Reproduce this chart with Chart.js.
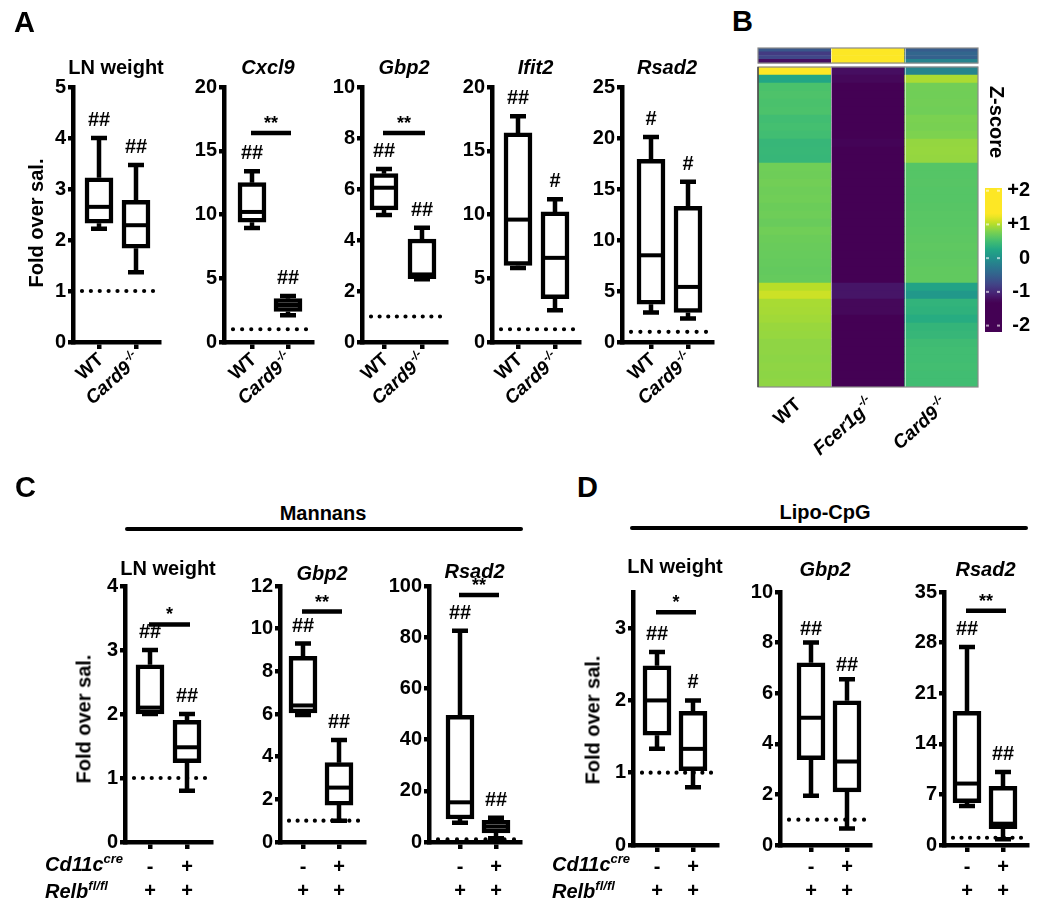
<!DOCTYPE html>
<html><head><meta charset="utf-8">
<script src="https://cdn.jsdelivr.net/npm/chart.js@4.4.1/dist/chart.umd.min.js"></script>
<style>
html,body{margin:0;padding:0;background:#fff;}
#root{position:relative;width:1050px;height:922px;overflow:hidden;background:#fff;font-family:"Liberation Sans",Arial,Helvetica,sans-serif;color:#000;}
canvas{position:absolute;}
.t{position:absolute;white-space:nowrap;line-height:0;}
.v{position:absolute;white-space:nowrap;font-weight:bold;}
.hl{position:absolute;background:#000;height:4px;border-radius:2px;}
.sp{position:relative;top:-0.65em;font-size:0.65em;}
</style></head><body><div id="root"></div>
<script>
const FONT = '"Liberation Sans", Arial, Helvetica, sans-serif';
Chart.defaults.font.family = FONT;
Chart.defaults.color = '#000';

// ================= DATA =================
// group labels
const groupsA = ['WT', 'Card9'];
const groupsASup = ['', '-/-'];
const groupsAItalic = [false, true];
const creRow = ['-', '+'];
const relbRow = ['+', '+'];

// box statistics: [min, Q1, median, Q3, max]
const A_LN_WT = [2.22, 2.33, 2.65, 3.22, 4.0];
const A_LN_KO = [1.37, 1.84, 2.29, 2.78, 3.47];
const A_CXCL9_WT = [8.95, 9.4, 10.2, 12.5, 13.4];
const A_CXCL9_KO = [2.1, 2.4, 2.9, 3.4, 3.6];
const A_GBP2_WT = [4.98, 5.18, 6.05, 6.6, 6.78];
const A_GBP2_KO = [2.46, 2.48, 2.65, 4.04, 4.48];
const A_IFIT2_WT = [5.8, 6.0, 9.6, 16.4, 17.7];
const A_IFIT2_KO = [2.5, 3.4, 6.6, 10.2, 11.2];
const A_RSAD2_WT = [2.9, 3.7, 8.5, 17.9, 20.1];
const A_RSAD2_KO = [2.3, 2.9, 5.4, 13.3, 15.7];

const C_LN_CTRL = [2.0, 2.0, 2.1, 2.77, 3.0];
const C_LN_CRE = [0.8, 1.24, 1.48, 1.9, 2.0];
const C_GBP2_CTRL = [5.95, 6.05, 6.4, 8.7, 9.3];
const C_GBP2_CRE = [1.0, 1.73, 2.55, 3.72, 4.78];
const C_RSAD2_CTRL = [7.5, 9.0, 15.5, 49.5, 82.5];
const C_RSAD2_CRE = [1.5, 3.5, 6.0, 8.5, 9.5];

const D_LN_CTRL = [1.33, 1.52, 2.0, 2.48, 2.67];
const D_LN_CRE = [0.8, 1.03, 1.33, 1.85, 2.0];
const D_GBP2_CTRL = [1.95, 3.37, 5.03, 7.2, 8.0];
const D_GBP2_CRE = [0.65, 2.1, 3.3, 5.7, 6.55];
const D_RSAD2_CTRL = [5.4, 5.85, 8.5, 18.5, 27.4];
const D_RSAD2_CRE = [0.8, 2.25, 2.95, 8.1, 10.1];

// significance marks above each box
const marksA_LN = ['##', '##'];
const marksA_CXCL9 = ['##', '##'];
const marksA_GBP2 = ['##', '##'];
const marksA_IFIT2 = ['##', '#'];
const marksA_RSAD2 = ['#', '#'];
const marksC_LN = ['##', '##'];
const marksC_GBP2 = ['##', '##'];
const marksC_RSAD2 = ['##', '##'];
const marksD_LN = ['##', '#'];
const marksD_GBP2 = ['##', '##'];
const marksD_RSAD2 = ['##', '##'];

// comparison bars: [level, label]
const sigA_CXCL9 = [16.4, '**'];
const sigA_GBP2 = [8.2, '**'];
const sigC_LN = [3.4, '*'];
const sigC_GBP2 = [10.8, '**'];
const sigC_RSAD2 = [96.5, '**'];
const sigD_LN = [3.22, '*'];
const sigD_RSAD2 = [32.4, '**'];

const refLevel = 1; // dotted saline line

// heatmap (z-scores), rows top to bottom
const heatGroups = ['WT', 'Fcer1g', 'Card9'];
const heatSup = ['', '-/-', '-/-'];
const heatItalic = [false, true, true];
const heatWT = [1.5, 0.24, 0.55, 0.57, 0.55, 0.56, 0.5, 0.52, 0.5, 0.42, 0.43, 0.42,
  0.73, 0.72, 0.74, 0.72, 0.73, 0.71, 0.72, 0.7, 0.73, 0.71, 0.7, 0.69, 0.68, 0.67, 0.68,
  1.02, 1.1, 0.96, 0.95, 0.93, 0.9, 0.89, 0.86, 0.86, 0.85, 0.86, 0.85, 0.86];
const heatFcer = [-1.2, -1.25, -1.6, -1.7, -1.7, -1.7, -1.6, -1.6, -1.6, -1.28, -1.3, -1.32,
  -1.8, -1.8, -1.8, -1.8, -1.8, -1.8, -1.8, -1.8, -1.8, -1.8, -1.8, -1.8, -1.8, -1.8, -1.8,
  -1.15, -1.15, -1.25, -1.25, -1.3, -1.3, -1.35, -1.5, -1.6, -1.6, -1.7, -1.7, -1.7];
const heatCard9 = [-0.13, 0.97, 0.74, 0.73, 0.74, 0.73, 0.78, 0.77, 0.79, 0.88, 0.89, 0.88,
  0.6, 0.6, 0.61, 0.6, 0.6, 0.61, 0.62, 0.62, 0.63, 0.64, 0.65, 0.64, 0.65, 0.66, 0.66,
  0.2, 0.08, 0.38, 0.36, 0.3, 0.4, 0.42, 0.48, 0.5, 0.5, 0.51, 0.5, 0.5];
const topWT = [-0.6, -0.85, -0.75, -1.2];
const topFcer = [1.6, 1.6, 1.6, 1.6];
const topCard9 = [-0.55, -0.45, -0.5, -0.15];
const zTicks = [-2, -1, 0, 1, 2];
const zRange = [-2.19, 2.08];

// ================= COLOR MAP =================
const VIR = ['#440154','#482475','#414487','#355f8d','#2a788e','#21918c','#22a884','#44bf70','#7ad151','#bddf26','#fde725'];
function hex2rgb(h){return [parseInt(h.slice(1,3),16),parseInt(h.slice(3,5),16),parseInt(h.slice(5,7),16)];}
function viridis(t){
  t = Math.max(0, Math.min(1, t));
  const p = t*10, i = Math.min(9, Math.floor(p)), f = p - i;
  const a = hex2rgb(VIR[i]), b = hex2rgb(VIR[i+1]);
  return 'rgb(' + a.map((v,k)=>Math.round(v + (b[k]-v)*f)).join(',') + ')';
}
const Z_SAT = 1.3;
const zc = z => viridis((z + Z_SAT) / (2*Z_SAT));

// ================= HELPERS =================
const root = document.getElementById('root');
function makeCanvas(left, top, w, h){
  const c = document.createElement('canvas');
  c.width = w; c.height = h;
  c.style.left = left+'px'; c.style.top = top+'px';
  c.style.width = w+'px'; c.style.height = h+'px';
  root.appendChild(c); return c;
}
function addText(html, x, base, size, opts){
  opts = opts || {};
  const d = document.createElement('div');
  d.className = 't'; d.innerHTML = html;
  d.style.fontSize = size+'px';
  d.style.fontWeight = opts.weight || 'bold';
  if (opts.italic) d.style.fontStyle = 'italic';
  d.style.top = (base - 0.3465*size) + 'px';
  d.style.left = x + 'px';
  if (opts.align === 'center') d.style.transform = 'translateX(-50%)';
  root.appendChild(d);
}
function addVText(text, cx, cy, size, deg){
  const d = document.createElement('div');
  d.className = 'v'; d.textContent = text; d.style.fontSize = size+'px';
  d.style.left = cx+'px'; d.style.top = cy+'px';
  d.style.transform = 'translate(-50%,-50%) rotate(' + deg + 'deg)';
  root.appendChild(d);
}
function addLine(x, y, w){
  const d = document.createElement('div');
  d.className = 'hl'; d.style.left = x+'px'; d.style.top = y+'px'; d.style.width = w+'px';
  root.appendChild(d);
}
function drawRotLabel(ctx, x, y, main, sup, italic, fs, angle){
  ctx.save();
  ctx.translate(x, y);
  ctx.rotate(-angle*Math.PI/180);
  const f1 = (italic ? 'italic ' : '') + 'bold ' + fs + 'px ' + FONT;
  const f2 = (italic ? 'italic ' : '') + 'bold ' + Math.round(fs*0.62) + 'px ' + FONT;
  ctx.font = f1; const w1 = ctx.measureText(main).width;
  ctx.font = f2; const w2 = sup ? ctx.measureText(sup).width + 1 : 0;
  ctx.textBaseline = 'alphabetic'; ctx.textAlign = 'left'; ctx.fillStyle = '#000';
  const yb = 0.36*fs;
  ctx.font = f1; ctx.fillText(main, -(w1+w2), yb);
  if (sup){ ctx.font = f2; ctx.fillText(sup, -w2 + 1, yb - 0.45*fs); }
  ctx.restore();
}

// ================= BOX CHARTS =================
const PL = 55, PR = 8, PT = 50, PB = 65;
const LW = 4.5;
const rowBase = [873, 897];

function boxDeco(d){
  return {
    id: 'deco',
    beforeDatasetsDraw(chart){
      const {ctx, chartArea: ca, scales: {y}} = chart;
      const yy = y.getPixelForValue(refLevel);
      const x0 = ca.left + 9, x1 = ca.right - 6, gap = (x1 - x0)/8;
      ctx.save();
      ctx.strokeStyle = '#000'; ctx.lineWidth = 4.2; ctx.lineCap = 'round';
      ctx.setLineDash([0, gap]);
      ctx.beginPath(); ctx.moveTo(x0, yy); ctx.lineTo(x1 + 0.5, yy); ctx.stroke();
      ctx.restore();
    },
    afterDatasetsDraw(chart){
      const {ctx, chartArea: ca, scales: {x, y}} = chart;
      const cTop = d.yTop - PT;
      ctx.save();
      ctx.strokeStyle = '#000'; ctx.fillStyle = '#000'; ctx.lineCap = 'butt';
      d.stats.forEach((s, i) => {
        const px = x.getPixelForValue(i);
        const [mn, q1, md, q3, mx] = s.map(v => y.getPixelForValue(v));
        ctx.lineWidth = LW;
        ctx.beginPath();
        ctx.moveTo(px, q3); ctx.lineTo(px, mx);
        ctx.moveTo(px, q1); ctx.lineTo(px, mn);
        ctx.moveTo(px - 8, mx); ctx.lineTo(px + 8, mx);
        ctx.moveTo(px - 8, mn); ctx.lineTo(px + 8, mn);
        ctx.stroke();
        ctx.lineWidth = 4;
        ctx.beginPath(); ctx.moveTo(px - 11, md); ctx.lineTo(px + 11, md); ctx.stroke();
        // marks
        ctx.font = 'bold 20px ' + FONT; ctx.textAlign = 'center'; ctx.textBaseline = 'alphabetic';
        ctx.fillText(d.marks[i], px, mx - (d.markDy || 12));
      });
      if (d.sig){
        const sy = y.getPixelForValue(d.sig[0]);
        const xa = x.getPixelForValue(0) - 1, xb = x.getPixelForValue(1) + 3;
        ctx.lineWidth = LW;
        ctx.beginPath(); ctx.moveTo(xa, sy); ctx.lineTo(xb, sy); ctx.stroke();
        ctx.font = 'bold 18px ' + FONT; ctx.textAlign = 'center';
        ctx.fillText(d.sig[1], (xa + xb)/2, sy - 4);
      }
      // title
      ctx.font = (d.italic ? 'italic ' : '') + 'bold 20px ' + FONT;
      ctx.textAlign = 'center'; ctx.textBaseline = 'alphabetic';
      ctx.fillText(d.title, (ca.left + ca.right)/2, ca.top + d.titleDy);
      // x labels
      for (let i = 0; i < 2; i++){
        const px = x.getPixelForValue(i);
        if (d.xl === 'geno'){
          drawRotLabel(ctx, px + 1, ca.bottom + 14, groupsA[i], groupsASup[i], groupsAItalic[i], 19, 42);
        } else {
          ctx.font = 'bold 20px ' + FONT; ctx.textAlign = 'center'; ctx.textBaseline = 'alphabetic';
          ctx.fillText(creRow[i], px, rowBase[0] - cTop);
          ctx.fillText(relbRow[i], px, rowBase[1] - cTop);
        }
      }
      ctx.restore();
    }
  };
}

function boxChart(d){
  const w = PL + (d.xEnd - d.axisX) + PR, h = PT + (d.yZero - d.yTop) + PB;
  const cv = makeCanvas(d.axisX - PL, d.yTop - PT, w, h);
  const sp = d.t1 - d.t0;
  const xmin = -(d.t0 - d.axisX)/sp, xmax = 1 + (d.xEnd - d.t1)/sp;
  new Chart(cv, {
    type: 'bar',
    data: { datasets: [{
      data: d.stats.map((s, i) => ({x: i, y: [s[1], s[3]]})),
      backgroundColor: '#fff', borderColor: '#000', borderWidth: LW,
      borderSkipped: false, barThickness: 28
    }]},
    options: {
      responsive: false, animation: false, events: [],
      layout: {padding: {left: 0, right: PR, top: PT, bottom: 0}},
      plugins: {legend: {display: false}, tooltip: {enabled: false}},
      scales: {
        x: {
          type: 'linear', min: xmin, max: xmax, offset: false,
          afterBuildTicks: s => { s.ticks = [{value: 0}, {value: 1}]; },
          afterFit: s => { s.height = PB; },
          ticks: {display: false},
          grid: {offset: false, drawOnChartArea: false, drawTicks: true, tickLength: 7, lineWidth: LW, color: '#000'},
          border: {display: true, width: LW, color: '#000'}
        },
        y: {
          min: 0, max: d.ymax,
          afterFit: s => { s.width = PL; },
          ticks: {stepSize: d.step, includeBounds: false, padding: 2, color: '#000', font: {size: 20, weight: 'bold'}},
          grid: {drawOnChartArea: false, drawTicks: true, tickLength: 5, lineWidth: LW, color: '#000'},
          border: {display: true, width: LW, color: '#000'}
        }
      }
    },
    plugins: [boxDeco(d)]
  });
}

const boxDefs = [
  // panel A
  {stats: [A_LN_WT, A_LN_KO], marks: marksA_LN, sig: null, title: 'LN weight', italic: false, ymax: 5, step: 1,
   axisX: 73, xEnd: 159, t0: 99, t1: 136, yTop: 87, yZero: 342, titleDy: -13.5, xl: 'geno'},
  {stats: [A_CXCL9_WT, A_CXCL9_KO], marks: marksA_CXCL9, sig: sigA_CXCL9, title: 'Cxcl9', italic: true, ymax: 20, step: 5,
   axisX: 224, xEnd: 312, t0: 252, t1: 288, yTop: 87, yZero: 342, titleDy: -13.5, xl: 'geno'},
  {stats: [A_GBP2_WT, A_GBP2_KO], marks: marksA_GBP2, sig: sigA_GBP2, title: 'Gbp2', italic: true, ymax: 10, step: 2,
   axisX: 362, xEnd: 446, t0: 384, t1: 422, yTop: 87, yZero: 342, titleDy: -13.5, xl: 'geno'},
  {stats: [A_IFIT2_WT, A_IFIT2_KO], marks: marksA_IFIT2, sig: null, title: 'Ifit2', italic: true, ymax: 20, step: 5,
   axisX: 492, xEnd: 579, t0: 518, t1: 555, yTop: 87, yZero: 342, titleDy: -13.5, xl: 'geno'},
  {stats: [A_RSAD2_WT, A_RSAD2_KO], marks: marksA_RSAD2, sig: null, title: 'Rsad2', italic: true, ymax: 25, step: 5,
   axisX: 622, xEnd: 712, t0: 651, t1: 688, yTop: 87, yZero: 342, titleDy: -13.5, xl: 'geno'},
  // panel C
  {stats: [C_LN_CTRL, C_LN_CRE], marks: marksC_LN, sig: sigC_LN, title: 'LN weight', italic: false, ymax: 4, step: 1,
   axisX: 125, xEnd: 211, t0: 150, t1: 187, yTop: 586, yZero: 842, titleDy: -11, xl: 'cre'},
  {stats: [C_GBP2_CTRL, C_GBP2_CRE], marks: marksC_GBP2, sig: sigC_GBP2, title: 'Gbp2', italic: true, ymax: 12, step: 2,
   axisX: 280, xEnd: 364, t0: 303, t1: 339, yTop: 586, yZero: 842, titleDy: -6, xl: 'cre'},
  {stats: [C_RSAD2_CTRL, C_RSAD2_CRE], marks: marksC_RSAD2, sig: sigC_RSAD2, title: 'Rsad2', italic: true, ymax: 100, step: 20,
   axisX: 429, xEnd: 520, t0: 460, t1: 496, yTop: 586, yZero: 842, titleDy: -8, xl: 'cre'},
  // panel D
  {stats: [D_LN_CTRL, D_LN_CRE], marks: marksD_LN, sig: sigD_LN, title: 'LN weight', italic: false, ymax: 3.5, step: 1,
   axisX: 633, xEnd: 717, t0: 657, t1: 693, yTop: 592, yZero: 845, titleDy: -19, xl: 'cre'},
  {stats: [D_GBP2_CTRL, D_GBP2_CRE], marks: marksD_GBP2, sig: null, title: 'Gbp2', italic: true, ymax: 10, step: 2,
   axisX: 780, xEnd: 870, t0: 811, t1: 847, yTop: 592, yZero: 845, titleDy: -16, xl: 'cre', markDy: 8},
  {stats: [D_RSAD2_CTRL, D_RSAD2_CRE], marks: marksD_RSAD2, sig: sigD_RSAD2, title: 'Rsad2', italic: true, ymax: 35, step: 7,
   axisX: 944, xEnd: 1027, t0: 967, t1: 1003, yTop: 592, yZero: 845, titleDy: -16, xl: 'cre'}
];
boxDefs.forEach(boxChart);

// ================= HEATMAP =================
(function(){
  const MAIN_N = heatWT.length, TOP_N = topWT.length;
  const GAP_U = 0.5, TOP_U = 0.47;
  const TOTAL = MAIN_N + GAP_U + TOP_N*TOP_U;
  const ds = [];
  const common = {barPercentage: 1, categoryPercentage: 1, borderWidth: 0, stack: 's'};
  for (let r = MAIN_N - 1; r >= 0; r--)
    ds.push(Object.assign({data: [1, 1, 1], backgroundColor: [zc(heatWT[r]), zc(heatFcer[r]), zc(heatCard9[r])]}, common));
  ds.push(Object.assign({data: [GAP_U, GAP_U, GAP_U], backgroundColor: 'rgba(0,0,0,0)'}, common));
  for (let r = TOP_N - 1; r >= 0; r--)
    ds.push(Object.assign({data: [TOP_U, TOP_U, TOP_U], backgroundColor: [zc(topWT[r]), zc(topFcer[r]), zc(topCard9[r])]}, common));
  const cv = makeCanvas(745, 40, 250, 420);
  new Chart(cv, {
    type: 'bar',
    data: {labels: heatGroups, datasets: ds},
    options: {
      responsive: false, animation: false, events: [],
      layout: {padding: {left: 13, right: 17, top: 8, bottom: 73}},
      plugins: {legend: {display: false}, tooltip: {enabled: false}},
      scales: {
        x: {display: false, stacked: true},
        y: {display: false, stacked: true, min: 0, max: TOTAL}
      }
    },
    plugins: [{
      id: 'heatdeco',
      afterDatasetsDraw(chart){
        const {ctx, chartArea: ca, scales: {x, y}} = chart;
        const yMainTop = y.getPixelForValue(MAIN_N), yMainBot = y.getPixelForValue(0);
        const yTopBot = y.getPixelForValue(MAIN_N + GAP_U), yTopTop = y.getPixelForValue(TOTAL);
        const cw = (ca.right - ca.left)/3;
        ctx.save();
        ctx.strokeStyle = 'rgba(255,255,255,0.55)'; ctx.lineWidth = 1;
        ctx.beginPath();
        for (let k = 1; k < 3; k++){
          const xx = Math.round(ca.left + k*cw) + 0.5;
          ctx.moveTo(xx, yMainTop); ctx.lineTo(xx, yMainBot);
          ctx.moveTo(xx, yTopTop); ctx.lineTo(xx, yTopBot);
        }
        ctx.stroke();
        ctx.strokeStyle = '#8a8a8a'; ctx.lineWidth = 1.2;
        ctx.strokeRect(ca.left, yMainTop, ca.right - ca.left, yMainBot - yMainTop);
        ctx.strokeRect(ca.left, yTopTop, ca.right - ca.left, yTopBot - yTopTop);
        ctx.strokeStyle = '#333'; ctx.lineWidth = 1.2;
        ctx.beginPath(); ctx.moveTo(ca.left, yMainTop); ctx.lineTo(ca.left, yMainBot); ctx.stroke();
        heatGroups.forEach((g, i) => {
          drawRotLabel(ctx, x.getPixelForValue(i) + 3, ca.bottom + 14, g, heatSup[i], heatItalic[i], 19, 42);
        });
        ctx.restore();
      }
    }]
  });
})();

// ================= COLOR BAR =================
(function(){
  const cv = makeCanvas(975, 170, 70, 180);
  new Chart(cv, {
    type: 'bar',
    data: {labels: ['z'], datasets: [{
      data: [zRange], barPercentage: 1, categoryPercentage: 1, borderWidth: 0,
      backgroundColor: (c) => {
        const ch = c.chart, sc = ch.scales.y;
        if (!ch.chartArea || !sc) return zc(0);
        const y0 = sc.getPixelForValue(zRange[0]), y1 = sc.getPixelForValue(zRange[1]);
        const g = ch.ctx.createLinearGradient(0, y0, 0, y1);
        for (let k = 0; k <= 40; k++){
          const z = zRange[0] + (zRange[1] - zRange[0])*k/40;
          g.addColorStop(k/40, zc(z));
        }
        return g;
      }
    }]},
    options: {
      responsive: false, animation: false, events: [],
      layout: {padding: {left: 10, right: 15, top: 10, bottom: 11}},
      plugins: {legend: {display: false}, tooltip: {enabled: false}},
      scales: {
        x: {display: false},
        y: {
          position: 'right', min: zRange[0], max: zRange[1],
          afterBuildTicks: s => { s.ticks = zTicks.map(v => ({value: v})); },
          afterFit: s => { s.width = 28; },
          ticks: {crossAlign: 'far', padding: 6, color: '#000', font: {size: 20, weight: 'bold'},
                  callback: v => (v > 0 ? '+' + v : String(v))},
          grid: {display: false, drawTicks: false},
          border: {display: false}
        }
      }
    },
    plugins: [{
      id: 'cbdeco',
      afterDatasetsDraw(chart){
        const {ctx, chartArea: ca, scales: {y}} = chart;
        ctx.save(); ctx.fillStyle = 'rgba(255,255,255,0.6)';
        zTicks.forEach(v => {
          const py = y.getPixelForValue(v);
          ctx.fillRect(ca.left + 1, py - 1, 3, 2);
          ctx.fillRect(ca.right - 5, py - 1, 3, 2);
        });
        ctx.restore();
      }
    }]
  });
})();

// ================= STATIC TEXT =================
addText('A', 14, 32, 29);
addText('B', 732, 31, 29);
addText('C', 15, 497, 29);
addText('D', 577, 497, 29);
addVText('Fold over sal.', 36, 223, 20, -90);
addVText('Fold over sal.', 84, 719, 20, -90);
addVText('Fold over sal.', 593, 720, 20, -90);
addVText('Z-score', 996, 122, 20, 90);
addText('Mannans', 323, 520, 20, {align: 'center'});
addText('Lipo-CpG', 825, 519, 20, {align: 'center'});
addLine(125, 527, 398);
addLine(630, 526, 398);
addText('Cd11c<span class="sp">cre</span>', 45, 871, 20, {italic: true});
addText('Relb<span class="sp">fl/fl</span>', 45, 898, 20, {italic: true});
addText('Cd11c<span class="sp">cre</span>', 552, 871, 20, {italic: true});
addText('Relb<span class="sp">fl/fl</span>', 552, 898, 20, {italic: true});
</script></body></html>
